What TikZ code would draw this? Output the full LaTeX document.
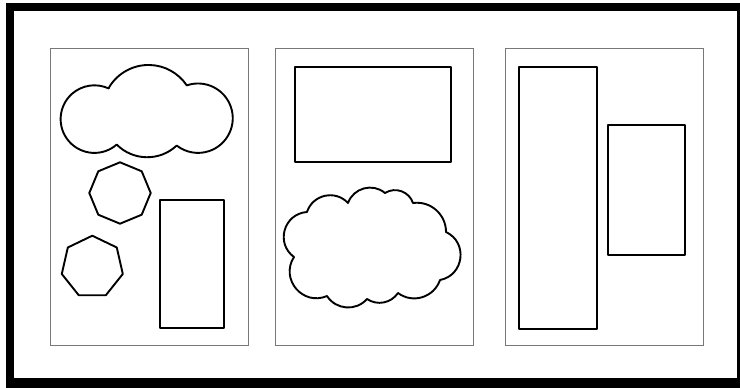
\documentclass[tikz,border=0pt]{standalone}
\definecolor{panelgray}{RGB}{120,120,120}
\begin{document}
\begin{tikzpicture}[x=1pt,y=1pt,
  panel/.style={draw=panelgray, line width=1pt},
  shapeline/.style={draw=black, line width=1.9pt, line join=round}]
\useasboundingbox (0,0) rectangle (740,-388);
% outer frame
\fill[black] (6,-3) rectangle (746,-394);
\fill[white] (14,-11) rectangle (737,-378);
% panels
\draw[panel] (50,-48) rectangle (248,-345);
\draw[panel] (275,-48) rectangle (473,-345);
\draw[panel] (505,-48) rectangle (703,-345);
% panel 1
\draw[shapeline] (109.4,-86.8) arc[start angle=148.3, end angle=33.8, radius=46pt]
  arc[start angle=109, end angle=-128, radius=34.7pt]
  arc[start angle=-46.7, end angle=-135.2, radius=43pt]
  arc[start angle=-48.8, end angle=-294.9, radius=33.8pt] -- cycle;
\draw[shapeline, shift={(120,-193)}] (90:30.7) -- (45:30.7) -- (0:30.7) -- (-45:30.7)
  -- (-90:30.7) -- (-135:30.7) -- (180:30.7) -- (135:30.7) -- cycle;
\draw[shapeline, shift={(92.3,-267)}] (90:31.3) -- (38.57:31.3) -- (-12.86:31.3)
  -- (-64.29:31.3) -- (-115.71:31.3) -- (-167.14:31.3) -- (141.43:31.3) -- cycle;
\draw[shapeline] (160,-200) rectangle (224,-328);
% panel 2
\draw[shapeline] (295,-67) rectangle (451,-162);
\draw[shapeline] (307,-212)
  to[bend left=59.5, looseness=1.13] (348,-203)
  to[bend left=55, looseness=1.08] (385,-193)
  to[bend left=52, looseness=1.05] (413,-203)
  to[bend left=49, looseness=1.03] (446,-232)
  to[bend left=72, looseness=1.30] (440,-280)
  to[bend left=54, looseness=1.07] (398,-293)
  to[bend left=45, looseness=1.0] (367,-299)
  to[bend left=53, looseness=1.06] (327,-296)
  to[bend left=73, looseness=1.32] (294,-257)
  to[bend left=70, looseness=1.27] (307,-212) -- cycle;
% panel 3
\draw[shapeline] (519,-67) rectangle (597,-329);
\draw[shapeline] (608,-125) rectangle (685,-255);
\end{tikzpicture}
\end{document}
